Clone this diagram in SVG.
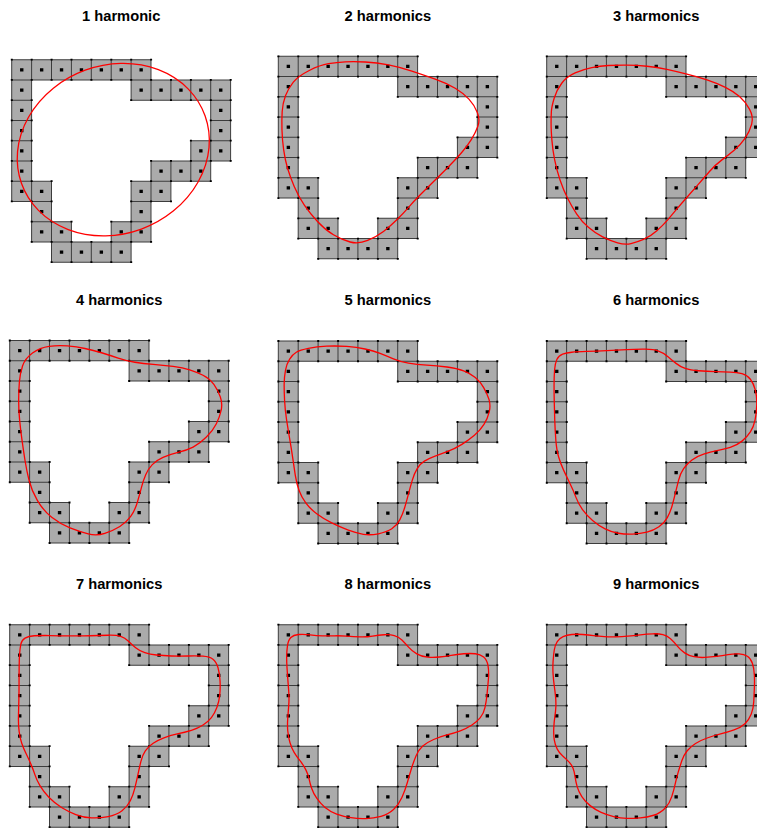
<svg xmlns="http://www.w3.org/2000/svg" xmlns:xlink="http://www.w3.org/1999/xlink" width="757" height="830" viewBox="0 0 757 830">
<style>
.title{font-family:"Liberation Sans",Arial,sans-serif;font-weight:bold;font-size:14.7px;fill:#000;text-anchor:middle}
.cells{fill:#ababab;stroke:#3c3c3c;stroke-width:0.05}
.cdot{fill:none;stroke:#000;stroke-width:0.16;stroke-linecap:square}
.vdot{fill:none;stroke:#000;stroke-width:0.09;stroke-linecap:square}
.curve{fill:none;stroke:#f00;stroke-width:0.065;stroke-linejoin:round}
</style>
<defs>
<g id="grid">
<path class="cells" d="M0 0h1v1h-1zM1 0h1v1h-1zM2 0h1v1h-1zM3 0h1v1h-1zM4 0h1v1h-1zM5 0h1v1h-1zM6 0h1v1h-1zM0 1h1v1h-1zM6 1h1v1h-1zM7 1h1v1h-1zM8 1h1v1h-1zM9 1h1v1h-1zM10 1h1v1h-1zM0 2h1v1h-1zM10 2h1v1h-1zM0 3h1v1h-1zM10 3h1v1h-1zM0 4h1v1h-1zM9 4h1v1h-1zM10 4h1v1h-1zM0 5h1v1h-1zM7 5h1v1h-1zM8 5h1v1h-1zM9 5h1v1h-1zM0 6h1v1h-1zM1 6h1v1h-1zM6 6h1v1h-1zM7 6h1v1h-1zM1 7h1v1h-1zM6 7h1v1h-1zM1 8h1v1h-1zM2 8h1v1h-1zM5 8h1v1h-1zM6 8h1v1h-1zM2 9h1v1h-1zM3 9h1v1h-1zM4 9h1v1h-1zM5 9h1v1h-1z"/>
<path class="vdot" d="M0 0h.01M1 0h.01M2 0h.01M3 0h.01M4 0h.01M5 0h.01M6 0h.01M7 0h.01M0 1h.01M1 1h.01M2 1h.01M3 1h.01M4 1h.01M5 1h.01M6 1h.01M7 1h.01M8 1h.01M9 1h.01M10 1h.01M11 1h.01M0 2h.01M1 2h.01M6 2h.01M7 2h.01M8 2h.01M9 2h.01M10 2h.01M11 2h.01M0 3h.01M1 3h.01M10 3h.01M11 3h.01M0 4h.01M1 4h.01M9 4h.01M10 4h.01M11 4h.01M0 5h.01M1 5h.01M7 5h.01M8 5h.01M9 5h.01M10 5h.01M11 5h.01M0 6h.01M1 6h.01M2 6h.01M6 6h.01M7 6h.01M8 6h.01M9 6h.01M10 6h.01M0 7h.01M1 7h.01M2 7h.01M6 7h.01M7 7h.01M8 7h.01M1 8h.01M2 8h.01M3 8h.01M5 8h.01M6 8h.01M7 8h.01M1 9h.01M2 9h.01M3 9h.01M4 9h.01M5 9h.01M6 9h.01M7 9h.01M2 10h.01M3 10h.01M4 10h.01M5 10h.01M6 10h.01"/>
<path class="cdot" d="M.5 .5h.01M1.5 .5h.01M2.5 .5h.01M3.5 .5h.01M4.5 .5h.01M5.5 .5h.01M6.5 .5h.01M.5 1.5h.01M6.5 1.5h.01M7.5 1.5h.01M8.5 1.5h.01M9.5 1.5h.01M10.5 1.5h.01M.5 2.5h.01M10.5 2.5h.01M.5 3.5h.01M10.5 3.5h.01M.5 4.5h.01M9.5 4.5h.01M10.5 4.5h.01M.5 5.5h.01M7.5 5.5h.01M8.5 5.5h.01M9.5 5.5h.01M.5 6.5h.01M1.5 6.5h.01M6.5 6.5h.01M7.5 6.5h.01M1.5 7.5h.01M6.5 7.5h.01M1.5 8.5h.01M2.5 8.5h.01M5.5 8.5h.01M6.5 8.5h.01M2.5 9.5h.01M3.5 9.5h.01M4.5 9.5h.01M5.5 9.5h.01"/>
</g>
</defs>

<g id="panel1">
<text class="title" x="121.2" y="21">1 harmonic</text>
<g transform="translate(11.7,59.7) scale(19.9,20.25)">
<use xlink:href="#grid" href="#grid"/>
<ellipse class="curve" cx="5.105" cy="4.44" rx="4.906" ry="4.168" transform="rotate(-19.8 5.105 4.44)"/>
</g>
</g>

<g id="panel2">
<text class="title" x="387.8" y="21">2 harmonics</text>
<g transform="translate(278.3,56.3) scale(19.9,20.25)">
<use xlink:href="#grid" href="#grid"/>
<path class="curve" d="M0.36 1.95Q0.5 1.58 0.755 1.275Q1.01 0.97 1.555 0.7Q2.1 0.43 2.52 0.365Q2.94 0.3 3.36 0.275Q3.78 0.25 4.365 0.28Q4.95 0.31 5.535 0.425Q6.12 0.54 6.71 0.73Q7.3 0.92 7.885 1.125Q8.47 1.33 8.89 1.58Q9.31 1.83 9.58 2.115Q9.85 2.4 10 2.77Q10.15 3.14 10.025 3.47Q9.9 3.8 9.69 4.13Q9.48 4.46 9.185 4.79Q8.89 5.12 8.515 5.49Q8.14 5.86 7.805 6.185Q7.47 6.51 7.135 6.84Q6.8 7.17 6.545 7.46Q6.29 7.75 5.955 8.075Q5.62 8.4 5.285 8.65Q4.95 8.9 4.49 9.09Q4.03 9.28 3.61 9.17Q3.19 9.06 2.77 8.815Q2.35 8.57 1.97 8.16Q1.59 7.75 1.3 7.335Q1.01 6.92 0.8 6.43Q0.59 5.94 0.465 5.53Q0.34 5.12 0.27 4.625Q0.2 4.13 0.185 3.635Q0.17 3.14 0.195 2.73Q0.22 2.32 0.36 1.95Z"/>
</g>
</g>

<g id="panel3">
<text class="title" x="656.2" y="21">3 harmonics</text>
<g transform="translate(546.7,56.3) scale(19.9,20.25)">
<use xlink:href="#grid" href="#grid"/>
<path class="curve" d="M0.235 2.73Q0.25 2.48 0.375 2.07Q0.5 1.66 0.755 1.33Q1.01 1 1.43 0.82Q1.85 0.64 2.265 0.56Q2.68 0.48 3.1 0.455Q3.52 0.43 4.025 0.435Q4.53 0.44 5.035 0.49Q5.54 0.54 6.04 0.65Q6.54 0.76 7.045 0.88Q7.55 1 8.055 1.165Q8.56 1.33 8.98 1.535Q9.4 1.74 9.69 1.99Q9.98 2.24 10.19 2.61Q10.4 2.98 10.3 3.35Q10.2 3.72 9.965 4.05Q9.73 4.38 9.435 4.625Q9.14 4.87 8.805 5.115Q8.47 5.36 8.18 5.69Q7.89 6.02 7.595 6.35Q7.3 6.68 7.005 7.01Q6.71 7.34 6.5 7.585Q6.29 7.83 6.08 8.075Q5.87 8.32 5.535 8.61Q5.2 8.9 4.865 9.04Q4.53 9.18 4.235 9.25Q3.94 9.32 3.565 9.215Q3.19 9.11 2.81 8.92Q2.43 8.73 2.095 8.445Q1.76 8.16 1.51 7.79Q1.26 7.42 1.05 7.01Q0.84 6.6 0.67 6.105Q0.5 5.61 0.4 5.115Q0.3 4.62 0.26 4.125Q0.22 3.63 0.22 3.305Q0.22 2.98 0.235 2.73Z"/>
</g>
</g>

<g id="panel4">
<text class="title" x="119.2" y="305">4 harmonics</text>
<g transform="translate(9.7,340.5) scale(19.9,20.25)">
<use xlink:href="#grid" href="#grid"/>
<path class="curve" d="M0.485 2.065Q0.52 1.63 0.645 1.26Q0.77 0.89 1.145 0.62Q1.52 0.35 1.98 0.29Q2.44 0.23 2.9 0.27Q3.36 0.31 3.78 0.395Q4.2 0.48 4.615 0.605Q5.03 0.73 5.45 0.87Q5.87 1.01 6.29 1.075Q6.71 1.14 7.21 1.18Q7.71 1.22 8.21 1.28Q8.71 1.34 9.045 1.445Q9.38 1.55 9.715 1.715Q10.05 1.88 10.26 2.17Q10.47 2.46 10.585 2.79Q10.7 3.12 10.625 3.45Q10.55 3.78 10.385 4.11Q10.22 4.44 9.885 4.77Q9.55 5.1 9.215 5.265Q8.88 5.43 8.46 5.53Q8.04 5.63 7.705 5.775Q7.37 5.92 7.165 6.13Q6.96 6.34 6.835 6.625Q6.71 6.91 6.625 7.24Q6.54 7.57 6.415 7.985Q6.29 8.4 6.08 8.69Q5.87 8.98 5.535 9.185Q5.2 9.39 4.78 9.525Q4.36 9.66 3.945 9.55Q3.53 9.44 3.03 9.25Q2.53 9.06 2.11 8.73Q1.69 8.4 1.395 7.905Q1.1 7.41 0.975 6.915Q0.85 6.42 0.77 5.925Q0.69 5.43 0.62 4.935Q0.55 4.44 0.5 3.945Q0.45 3.45 0.45 2.975Q0.45 2.5 0.485 2.065Z"/>
</g>
</g>

<g id="panel5">
<text class="title" x="387.8" y="305">5 harmonics</text>
<g transform="translate(278.3,341) scale(19.9,20.25)">
<use xlink:href="#grid" href="#grid"/>
<path class="curve" d="M0.295 2.1Q0.3 1.77 0.36 1.445Q0.42 1.12 0.57 0.89Q0.72 0.66 0.905 0.555Q1.09 0.45 1.51 0.365Q1.93 0.28 2.435 0.255Q2.94 0.23 3.44 0.27Q3.94 0.31 4.36 0.395Q4.78 0.48 5.115 0.61Q5.45 0.74 5.785 0.88Q6.12 1.02 6.54 1.09Q6.96 1.16 7.465 1.19Q7.97 1.22 8.475 1.285Q8.98 1.35 9.315 1.475Q9.65 1.6 9.9 1.805Q10.15 2.01 10.32 2.3Q10.49 2.59 10.585 2.88Q10.68 3.17 10.6 3.5Q10.52 3.83 10.335 4.12Q10.15 4.41 9.855 4.655Q9.56 4.9 9.225 5.105Q8.89 5.31 8.515 5.45Q8.14 5.59 7.845 5.7Q7.55 5.81 7.34 5.935Q7.13 6.06 6.98 6.305Q6.83 6.55 6.73 6.88Q6.63 7.21 6.545 7.54Q6.46 7.87 6.36 8.2Q6.26 8.53 6.11 8.82Q5.96 9.11 5.705 9.275Q5.45 9.44 5.03 9.52Q4.61 9.6 4.275 9.545Q3.94 9.49 3.52 9.34Q3.1 9.19 2.685 8.985Q2.27 8.78 1.93 8.53Q1.59 8.28 1.38 7.995Q1.17 7.71 1.045 7.38Q0.92 7.05 0.855 6.635Q0.79 6.22 0.73 5.81Q0.67 5.4 0.585 4.905Q0.5 4.41 0.42 3.915Q0.34 3.42 0.315 2.925Q0.29 2.43 0.295 2.1Z"/>
</g>
</g>

<g id="panel6">
<text class="title" x="656.2" y="305">6 harmonics</text>
<g transform="translate(546.7,341) scale(19.9,20.25)">
<use xlink:href="#grid" href="#grid"/>
<path class="curve" d="M0.37 2.18Q0.37 1.77 0.395 1.435Q0.42 1.1 0.51 0.91Q0.6 0.72 0.8 0.65Q1 0.58 1.255 0.555Q1.51 0.53 2.015 0.515Q2.52 0.5 3.02 0.475Q3.52 0.45 4.025 0.425Q4.53 0.4 4.95 0.405Q5.37 0.41 5.62 0.495Q5.87 0.58 6.08 0.76Q6.29 0.94 6.5 1.105Q6.71 1.27 6.96 1.355Q7.21 1.44 7.63 1.47Q8.05 1.5 8.47 1.51Q8.89 1.52 9.225 1.535Q9.56 1.55 9.815 1.615Q10.07 1.68 10.235 1.89Q10.4 2.1 10.485 2.43Q10.57 2.76 10.555 3.17Q10.54 3.58 10.47 3.91Q10.4 4.24 10.235 4.49Q10.07 4.74 9.815 4.945Q9.56 5.15 9.225 5.25Q8.89 5.35 8.555 5.415Q8.22 5.48 7.885 5.585Q7.55 5.69 7.3 5.875Q7.05 6.06 6.88 6.305Q6.71 6.55 6.625 6.88Q6.54 7.21 6.46 7.54Q6.38 7.87 6.295 8.16Q6.21 8.45 6.06 8.72Q5.91 8.99 5.64 9.175Q5.37 9.36 5.035 9.44Q4.7 9.52 4.32 9.535Q3.94 9.55 3.605 9.495Q3.27 9.44 2.935 9.275Q2.6 9.11 2.305 8.86Q2.01 8.61 1.8 8.325Q1.59 8.04 1.465 7.71Q1.34 7.38 1.175 7.05Q1.01 6.72 0.855 6.39Q0.7 6.06 0.6 5.73Q0.5 5.4 0.46 4.905Q0.42 4.41 0.405 3.915Q0.39 3.42 0.38 3.005Q0.37 2.59 0.37 2.18Z"/>
</g>
</g>

<g id="panel7">
<text class="title" x="119.2" y="589">7 harmonics</text>
<g transform="translate(9.7,624.7) scale(19.9,20.25)">
<use xlink:href="#grid" href="#grid"/>
<path class="curve" d="M0.475 2.07Q0.48 1.66 0.5 1.415Q0.52 1.17 0.56 0.965Q0.6 0.76 0.77 0.66Q0.94 0.56 1.23 0.545Q1.52 0.53 2.025 0.535Q2.53 0.54 3.03 0.55Q3.53 0.56 4.03 0.545Q4.53 0.53 4.95 0.52Q5.37 0.51 5.58 0.575Q5.79 0.64 5.955 0.805Q6.12 0.97 6.33 1.135Q6.54 1.3 6.79 1.38Q7.04 1.46 7.375 1.495Q7.71 1.53 8.13 1.545Q8.55 1.56 8.965 1.545Q9.38 1.53 9.715 1.555Q10.05 1.58 10.215 1.705Q10.38 1.83 10.465 2.115Q10.55 2.4 10.57 2.77Q10.59 3.14 10.555 3.47Q10.52 3.8 10.41 4.09Q10.3 4.38 10.135 4.585Q9.97 4.79 9.715 4.955Q9.46 5.12 9.13 5.215Q8.8 5.31 8.42 5.395Q8.04 5.48 7.75 5.585Q7.46 5.69 7.21 5.855Q6.96 6.02 6.815 6.225Q6.67 6.43 6.59 6.76Q6.51 7.09 6.44 7.42Q6.37 7.75 6.285 8.08Q6.2 8.41 6.06 8.695Q5.92 8.98 5.645 9.185Q5.37 9.39 4.95 9.475Q4.53 9.56 4.115 9.54Q3.7 9.52 3.32 9.375Q2.94 9.23 2.605 9.025Q2.27 8.82 1.98 8.53Q1.69 8.24 1.52 7.95Q1.35 7.66 1.27 7.415Q1.19 7.17 1.065 6.885Q0.94 6.6 0.815 6.35Q0.69 6.1 0.605 5.855Q0.52 5.61 0.475 5.28Q0.43 4.95 0.44 4.54Q0.45 4.13 0.46 3.72Q0.47 3.31 0.47 2.895Q0.47 2.48 0.475 2.07Z"/>
</g>
</g>

<g id="panel8">
<text class="title" x="387.8" y="589">8 harmonics</text>
<g transform="translate(278.3,624.7) scale(19.9,20.25)">
<use xlink:href="#grid" href="#grid"/>
<path class="curve" d="M0.435 2.075Q0.42 1.83 0.42 1.58Q0.42 1.33 0.46 1.045Q0.5 0.76 0.63 0.635Q0.76 0.51 1.01 0.485Q1.26 0.46 1.595 0.5Q1.93 0.54 2.225 0.55Q2.52 0.56 2.81 0.55Q3.1 0.54 3.44 0.565Q3.78 0.59 4.115 0.6Q4.45 0.61 4.74 0.56Q5.03 0.51 5.325 0.495Q5.62 0.48 5.83 0.535Q6.04 0.59 6.21 0.755Q6.38 0.92 6.545 1.11Q6.71 1.3 6.96 1.44Q7.21 1.58 7.505 1.605Q7.8 1.63 8.095 1.595Q8.39 1.56 8.685 1.51Q8.98 1.46 9.315 1.435Q9.65 1.41 9.9 1.435Q10.15 1.46 10.32 1.6Q10.49 1.74 10.54 2.03Q10.59 2.32 10.555 2.73Q10.52 3.14 10.485 3.47Q10.45 3.8 10.385 4.09Q10.32 4.38 10.15 4.585Q9.98 4.79 9.73 4.955Q9.48 5.12 9.145 5.24Q8.81 5.36 8.475 5.445Q8.14 5.53 7.805 5.67Q7.47 5.81 7.26 5.995Q7.05 6.18 6.925 6.47Q6.8 6.76 6.695 7.09Q6.59 7.42 6.485 7.79Q6.38 8.16 6.21 8.53Q6.04 8.9 5.79 9.13Q5.54 9.36 5.16 9.46Q4.78 9.56 4.405 9.575Q4.03 9.59 3.65 9.53Q3.27 9.47 2.935 9.35Q2.6 9.23 2.35 9.025Q2.1 8.82 1.93 8.57Q1.76 8.32 1.675 8.075Q1.59 7.83 1.55 7.625Q1.51 7.42 1.385 7.17Q1.26 6.92 1.09 6.715Q0.92 6.51 0.795 6.305Q0.67 6.1 0.585 5.815Q0.5 5.53 0.475 5.24Q0.45 4.95 0.475 4.62Q0.5 4.29 0.525 3.96Q0.55 3.63 0.525 3.305Q0.5 2.98 0.475 2.65Q0.45 2.32 0.435 2.075Z"/>
</g>
</g>

<g id="panel9">
<text class="title" x="656.2" y="589">9 harmonics</text>
<g transform="translate(546.7,624.7) scale(19.9,20.25)">
<use xlink:href="#grid" href="#grid"/>
<path class="curve" d="M0.32 2.44Q0.3 2.15 0.32 1.825Q0.34 1.5 0.38 1.25Q0.42 1 0.53 0.835Q0.64 0.67 0.825 0.59Q1.01 0.51 1.26 0.485Q1.51 0.46 1.805 0.485Q2.1 0.51 2.355 0.535Q2.61 0.56 2.9 0.585Q3.19 0.61 3.485 0.6Q3.78 0.59 4.075 0.565Q4.37 0.54 4.705 0.5Q5.04 0.46 5.335 0.45Q5.63 0.44 5.84 0.49Q6.05 0.54 6.22 0.69Q6.39 0.84 6.555 1.045Q6.72 1.25 6.93 1.39Q7.14 1.53 7.395 1.58Q7.65 1.63 7.945 1.615Q8.24 1.6 8.53 1.565Q8.82 1.53 9.115 1.48Q9.41 1.43 9.665 1.445Q9.92 1.46 10.085 1.56Q10.25 1.66 10.335 1.905Q10.42 2.15 10.435 2.48Q10.45 2.81 10.435 3.14Q10.42 3.47 10.405 3.8Q10.39 4.13 10.28 4.415Q10.17 4.7 9.96 4.89Q9.75 5.08 9.415 5.195Q9.08 5.31 8.74 5.395Q8.4 5.48 8.065 5.595Q7.73 5.71 7.48 5.865Q7.23 6.02 7.06 6.225Q6.89 6.43 6.79 6.72Q6.69 7.01 6.605 7.295Q6.52 7.58 6.455 7.87Q6.39 8.16 6.285 8.49Q6.18 8.82 5.945 9.065Q5.71 9.31 5.375 9.41Q5.04 9.51 4.705 9.535Q4.37 9.56 4.035 9.56Q3.7 9.56 3.365 9.475Q3.03 9.39 2.735 9.265Q2.44 9.14 2.185 8.935Q1.93 8.73 1.765 8.485Q1.6 8.24 1.53 7.995Q1.46 7.75 1.425 7.5Q1.39 7.25 1.325 7.085Q1.26 6.92 1.115 6.775Q0.97 6.63 0.805 6.49Q0.64 6.35 0.53 6.145Q0.42 5.94 0.38 5.69Q0.34 5.44 0.355 5.115Q0.37 4.79 0.41 4.54Q0.45 4.29 0.46 4.045Q0.47 3.8 0.445 3.555Q0.42 3.31 0.38 3.02Q0.34 2.73 0.32 2.44Z"/>
</g>
</g>
</svg>
